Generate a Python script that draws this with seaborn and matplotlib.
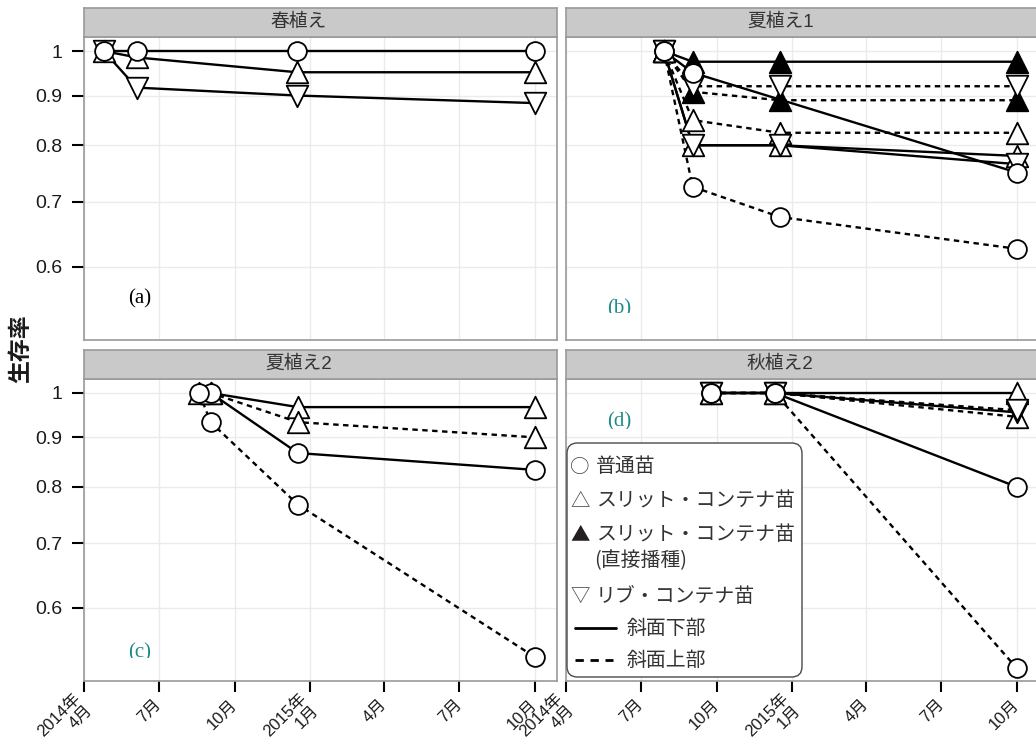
import pandas as pd
import matplotlib
matplotlib.use("Agg")
import matplotlib.pyplot as plt
from matplotlib.patches import FancyBboxPatch
from matplotlib.lines import Line2D
from matplotlib.ticker import FixedLocator, NullLocator
from matplotlib.transforms import Bbox, TransformedBbox
import seaborn as sns

# ---------------- data ----------------
# 春植え
spring_dates = ["2014-04-25", "2014-06-04", "2014-12-16", "2015-10-01"]
spring_normal_lower = [1.0, 1.0, 1.0, 1.0]
spring_slit_lower = [1.0, 0.985, 0.951, 0.951]
spring_rib_lower = [1.0, 0.917, 0.900, 0.884]

# 夏植え1
summer1_dates = ["2014-07-29", "2014-09-02", "2014-12-17", "2015-10-01"]
summer1_dates_normal_lower = ["2014-07-29", "2014-09-02", "2015-10-01"]
summer1_normal_lower = [1.0, 0.950, 0.750]
summer1_normal_upper = [1.0, 0.725, 0.675, 0.626]
summer1_slit_lower = [1.0, 0.800, 0.800, 0.780]
summer1_slit_upper = [1.0, 0.849, 0.824, 0.824]
summer1_sown_lower = [1.0, 0.975, 0.975, 0.975]
summer1_sown_upper = [1.0, 0.908, 0.890, 0.890]
summer1_rib_lower = [1.0, 0.800, 0.800, 0.765]
summer1_rib_upper = [1.0, 0.920, 0.920, 0.920]

# 夏植え2
summer2_dates_upper = ["2014-08-19", "2014-09-02", "2014-12-17", "2015-10-01"]
summer2_dates_lower = ["2014-09-02", "2014-12-17", "2015-10-01"]
summer2_normal_upper = [1.0, 0.933, 0.767, 0.534]
summer2_slit_upper = [1.0, 1.0, 0.933, 0.900]
summer2_normal_lower = [1.0, 0.867, 0.833]
summer2_slit_lower = [1.0, 0.967, 0.967]

# 秋植え2
autumn2_dates = ["2014-09-24", "2014-12-11", "2015-10-01"]
autumn2_normal_lower = [1.0, 1.0, 0.800]
autumn2_normal_upper = [1.0, 1.0, 0.520]
autumn2_slit_lower = [1.0, 1.0, 1.0]
autumn2_slit_upper = [1.0, 1.0, 0.945]
autumn2_rib_lower = [1.0, 1.0, 0.955]
autumn2_rib_upper = [1.0, 1.0, 0.960]

panel_titles = ["春植え", "夏植え1", "夏植え2", "秋植え2"]
panel_tags = ["(a)", "(b)", "(c)", "(d)"]
month_ticks = ["2014-04-01", "2014-07-01", "2014-10-01", "2015-01-01",
               "2015-04-01", "2015-07-01", "2015-10-01"]
month_labels = ["2014年\n4月", "7月", "10月", "2015年\n1月", "4月", "7月", "10月"]
y_ticks = [0.6, 0.7, 0.8, 0.9, 1.0]
y_labels = ["0.6", "0.7", "0.8", "0.9", "1"]
stock_labels = ["普通苗", "スリット・コンテナ苗", "スリット・コンテナ苗", "リブ・コンテナ苗"]
sown_note = "(直接播種)"
slope_labels = ["斜面下部", "斜面上部"]
y_title = "生存率"

# ---------------- series per panel ----------------
panels = [
    [(spring_dates, spring_slit_lower, "slit", "lower"),
     (spring_dates, spring_rib_lower, "rib", "lower"),
     (spring_dates, spring_normal_lower, "normal", "lower")],
    [(summer1_dates, summer1_sown_lower, "sown", "lower"),
     (summer1_dates, summer1_sown_upper, "sown", "upper"),
     (summer1_dates, summer1_slit_lower, "slit", "lower"),
     (summer1_dates, summer1_slit_upper, "slit", "upper"),
     (summer1_dates, summer1_rib_lower, "rib", "lower"),
     (summer1_dates, summer1_rib_upper, "rib", "upper"),
     (summer1_dates_normal_lower, summer1_normal_lower, "normal", "lower"),
     (summer1_dates, summer1_normal_upper, "normal", "upper")],
    [(summer2_dates_lower, summer2_normal_lower, "normal", "lower"),
     (summer2_dates_lower, summer2_slit_lower, "slit", "lower"),
     (summer2_dates_upper, summer2_slit_upper, "slit", "upper"),
     (summer2_dates_upper, summer2_normal_upper, "normal", "upper")],
    [(autumn2_dates, autumn2_slit_lower, "slit", "lower"),
     (autumn2_dates, autumn2_slit_upper, "slit", "upper"),
     (autumn2_dates, autumn2_rib_lower, "rib", "lower"),
     (autumn2_dates, autumn2_rib_upper, "rib", "upper"),
     (autumn2_dates, autumn2_normal_lower, "normal", "lower"),
     (autumn2_dates, autumn2_normal_upper, "normal", "upper")],
]

marker_style = {
    "normal": dict(marker="o", s=13.5 ** 2, color="white", z=6),
    "slit": dict(marker="^", s=15.5 ** 2, color="white", z=5),
    "sown": dict(marker="^", s=15.5 ** 2, color="black", z=4),
    "rib": dict(marker="v", s=15.5 ** 2, color="white", z=5),
}
line_style = {"lower": "-", "upper": (0, (2.3, 1.9))}

# ---------------- figure ----------------
sns.set_style("white")
plt.rcParams["font.family"] = ["Liberation Sans", "Noto Sans CJK JP", "DejaVu Sans"]

W, H = 1036, 751
fig = plt.figure(figsize=(W / 100, H / 100), dpi=100)


def fx(px):
    return px / W


def fy(py):
    return 1 - py / H


panel_px = [  # left, top, right, bottom (pixels)
    (84, 37, 557, 340),
    (566, 37, 1039, 340),
    (84, 379, 557, 681),
    (566, 379, 1039, 681),
]
strip_h = 29

xlim = (pd.Timestamp("2014-04-01"), pd.Timestamp("2015-10-28"))
ylim = (0.5044, 1.0338)
teal = "#1f8c8a"
grid_c = "#ebebeb"
frame_c = "#9a9a9a"

axes = []
for i, (l, t, r, b) in enumerate(panel_px):
    ax = fig.add_axes([fx(l), fy(b), fx(r) - fx(l), fy(t) - fy(b)])
    axes.append(ax)
    # lines first, then points on top
    for dates, vals, stock, slope in panels[i]:
        d = pd.DataFrame({"date": pd.to_datetime(dates), "rate": vals})
        sns.lineplot(data=d, x="date", y="rate", ax=ax, color="black",
                     linewidth=1.7, linestyle=line_style[slope],
                     estimator=None, sort=False, zorder=2)
    for dates, vals, stock, slope in panels[i]:
        d = pd.DataFrame({"date": pd.to_datetime(dates), "rate": vals})
        st = marker_style[stock]
        sns.scatterplot(data=d, x="date", y="rate", ax=ax, marker=st["marker"],
                        s=st["s"], color=st["color"], edgecolor="black",
                        linewidth=1.3, zorder=st["z"], legend=False)

    ax.set_yscale("log")
    ax.set_ylim(*ylim)
    ax.set_xlim(*xlim)
    ax.yaxis.set_major_locator(FixedLocator(y_ticks))
    ax.yaxis.set_minor_locator(NullLocator())
    ax.set_yticklabels(y_labels)
    ax.set_xticks(pd.to_datetime(month_ticks))
    ax.set_xticklabels(month_labels, rotation=45, ha="right", va="center",
                       rotation_mode="anchor", fontsize=12, color="#1a1a1a")
    ax.xaxis.set_minor_locator(NullLocator())
    ax.set_xlabel("")
    ax.set_ylabel("")
    ax.grid(True, which="major", color=grid_c, linewidth=1.0)
    ax.set_axisbelow(True)
    for sp in ax.spines.values():
        sp.set_color(frame_c)
        sp.set_linewidth(1.2)
    ax.tick_params(axis="y", left=True, length=8.5, width=1.5, color="black",
                   pad=7, labelsize=14, labelcolor="#1a1a1a")
    ax.tick_params(axis="x", bottom=True, length=8, width=1.5, color="black",
                   pad=7)
    if i < 2:
        ax.tick_params(axis="x", bottom=False, labelbottom=False)
    if i % 2 == 1:
        ax.tick_params(axis="y", left=False, labelleft=False)

    # facet strip
    sax = fig.add_axes([fx(l), fy(t), fx(r) - fx(l), fy(t - strip_h) - fy(t)])
    sax.set_facecolor("#c9c9c9")
    sax.set_xticks([])
    sax.set_yticks([])
    for sp in sax.spines.values():
        sp.set_color(frame_c)
        sp.set_linewidth(1.2)
    sax.text(0.453, 0.5, panel_titles[i], ha="center", va="center",
             fontsize=13.5, color="#333333", transform=sax.transAxes)

# panel tags; (b)-(d) are cut off along their lower edge
tag_pos = [(0.118, 0.135, None), (0.112, 0.104, 0.089),
           (0.118, 0.093, 0.077), (0.112, 0.858, 0.834)]
for i, (tx, ty, cut) in enumerate(tag_pos):
    ax = axes[i]
    txt = ax.text(tx, ty, panel_tags[i], transform=ax.transAxes, ha="center",
                  va="center", fontsize=15, family="Liberation Serif",
                  color="black" if i == 0 else teal, zorder=8)
    if cut is not None:
        txt.set_clip_on(True)
        txt.set_clip_box(TransformedBbox(Bbox([[0, cut], [1, 1]]), ax.transAxes))

fig.text(fx(21), fy(349), y_title, rotation=90, ha="center", va="center",
         fontsize=16.5, fontweight="bold", color="#1a1a1a",
         family=["Noto Sans CJK JP", "DejaVu Sans"])

# ---------------- legend box in the 秋植え2 panel ----------------
lax = axes[3]
l, t, r, b = panel_px[3]
aw, ah = r - l, b - t


def axx(px):
    return (px - l) / aw


def axy(py):
    return (b - py) / ah


box = FancyBboxPatch((axx(567), axy(677)), axx(802) - axx(567), axy(443) - axy(677),
                     boxstyle="round,pad=0,rounding_size=0.022",
                     mutation_aspect=aw / ah, transform=lax.transAxes,
                     facecolor="white", edgecolor="#4a4a4a", linewidth=1.0,
                     zorder=10, clip_on=False)
lax.add_patch(box)

jp = ["Noto Sans CJK JP", "DejaVu Sans"]
sym = ["○", "△", "▲", "▽"]
sym_y = [467, 501, 535, 596]
sym_c = ["#444444", "#444444", "#231f20", "#444444"]
for s, yy, c, lab in zip(sym, sym_y, sym_c, stock_labels):
    lax.text(axx(580), axy(yy), s, transform=lax.transAxes, ha="center",
             va="center", fontsize=14, color=c, family=jp, zorder=11)
    lax.text(axx(596), axy(yy), lab, transform=lax.transAxes, ha="left",
             va="center", fontsize=14.3, color="#333333", family=jp, zorder=11)
lax.text(axx(594), axy(561), sown_note, transform=lax.transAxes, ha="left",
         va="center", fontsize=14.3, color="#333333", family=jp, zorder=11)

for yy, ls, x1, lab in [(628, "-", 616, slope_labels[0]),
                        (660, (0, (3, 2.4)), 613, slope_labels[1])]:
    lax.add_line(Line2D([axx(575), axx(x1)], [axy(yy), axy(yy)],
                        transform=lax.transAxes, color="black", linewidth=2,
                        linestyle=ls, zorder=11, clip_on=False))
    lax.text(axx(627), axy(yy), lab, transform=lax.transAxes, ha="left",
             va="center", fontsize=14.3, color="#333333", family=jp, zorder=11)

fig.savefig("out.png", dpi=100)
